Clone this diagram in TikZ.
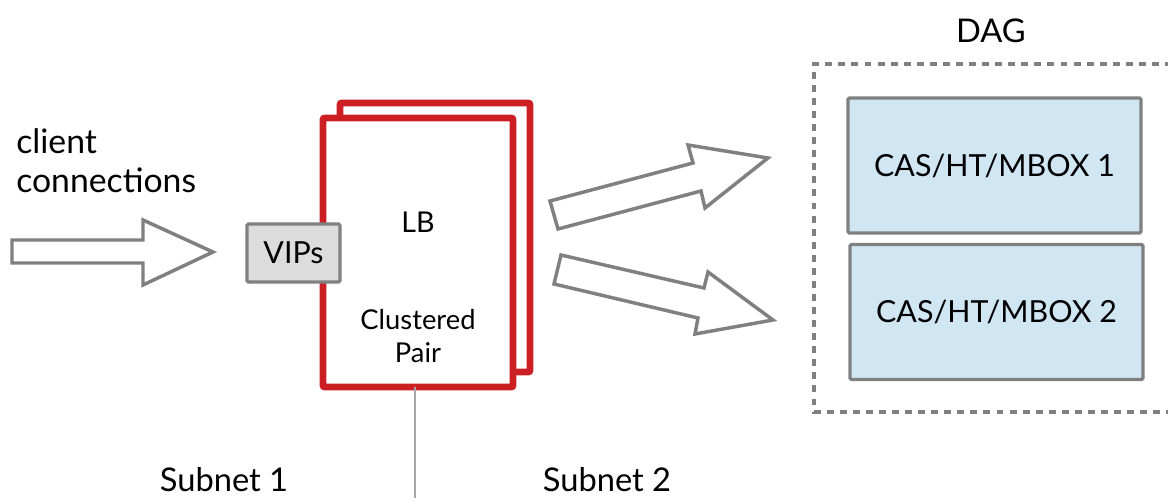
\documentclass[tikz,border=0pt]{standalone}
\usepackage{fontspec}
\setmainfont{Lato}
\definecolor{lbred}{HTML}{CC1F24}
\definecolor{edgegray}{HTML}{808080}
\definecolor{vipfill}{HTML}{DCDCDC}
\definecolor{casfill}{HTML}{D1E6F3}
\begin{document}
\begin{tikzpicture}[x=0.75pt,y=-0.75pt,
  blockarrow/.style={draw=edgegray,line width=2.6pt,fill=white,line join=miter},
  lbbox/.style={draw=lbred,line width=5.2pt,fill=white,rounded corners=1.5pt},
  vipbox/.style={draw=edgegray,line width=2.4pt,fill=vipfill,rounded corners=1pt,
    minimum width=93*0.75pt,minimum height=58*0.75pt,inner sep=0pt},
  casbox/.style={draw=edgegray,line width=2.4pt,fill=casfill,rounded corners=1pt,
    minimum width=293*0.75pt,minimum height=135*0.75pt,inner sep=0pt},
  dagframe/.style={draw=edgegray,line width=2.4pt,dash pattern=on 5.2pt off 4.6pt},
  label/.style={font=\fontsize{22.8}{27}\selectfont,inner sep=0pt},
  wide/.style={font=\fontsize{24.5}{29}\selectfont,inner sep=0pt},
  small/.style={font=\fontsize{20.5}{24.5}\selectfont,inner sep=0pt,align=center}
]
\useasboundingbox (0,0) rectangle (1168,498);

% incoming client traffic
\draw[blockarrow] (12,240) -- (143,240) -- (143,220) -- (213,252) -- (143,285)
  -- (143,263) -- (12,263) -- cycle;
\node[wide,font=\fontsize{25.3}{29.5}\selectfont,anchor=north west,align=left]
  (client) at (16,128) {client\\connections};

% load balancer pair (back and front)
\draw[lbbox] (340,103) rectangle (530,372);
\draw[lbbox] (323,118) rectangle (513,387);
\node[label,font=\fontsize{21.5}{26}\selectfont] (lb) at (418,222) {LB};
\node[small] (pair) at (418,336) {Clustered\\Pair};

% virtual IPs on the LB edge
\node[vipbox,label] (vips) at (293.5,253) {VIPs};

% subnet divider
\coordinate (lbbottom) at (415,387);
\coordinate (divend) at (415,498);
\draw[draw=black!35,line width=0.8pt] (lbbottom) -- (divend);
\node[wide] (sub1) at (224,480) {Subnet 1};
\node[wide] (sub2) at (607,480) {Subnet 2};

% outgoing traffic to the DAG members
\draw[blockarrow] (558,229) -- (550,201) -- (693,163) -- (688,145) -- (768,158)
  -- (705,208) -- (701,191) -- cycle;
\draw[blockarrow] (561,255) -- (554,284) -- (698,318) -- (695,334) -- (773,320)
  -- (708,272) -- (704,288) -- cycle;

% database availability group
\draw[dagframe] (1172,64) -- (814,64) -- (814,412) -- (1172,412);
\node[wide] (dag) at (991,31) {DAG};
\node[casbox,label] (cas1) at (994.5,165.5) {CAS/HT/MBOX 1};
\node[casbox,label] (cas2) at (996.5,312) {CAS/HT/MBOX 2};
\end{tikzpicture}
\end{document}
